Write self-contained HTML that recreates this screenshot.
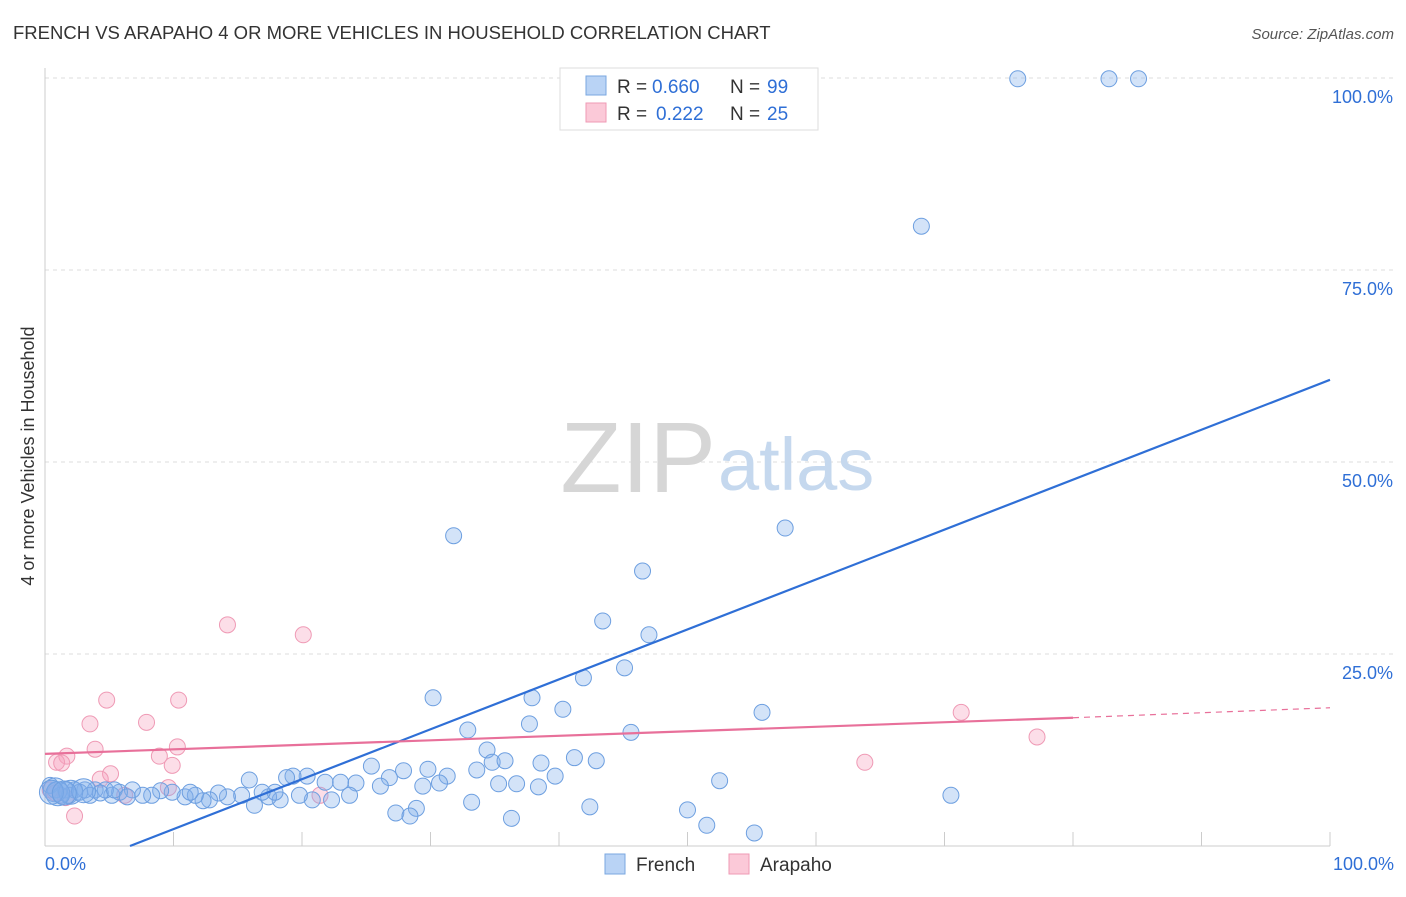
<!DOCTYPE html>
<html><head><meta charset="utf-8"><style>
body{margin:0;background:#fff;font-family:"Liberation Sans",sans-serif;}
svg text{font-family:"Liberation Sans",sans-serif;}
</style></head><body>
<svg id="chart" width="1406" height="892">
<text x="13" y="39" font-size="18.5" fill="#333">FRENCH VS ARAPAHO 4 OR MORE VEHICLES IN HOUSEHOLD CORRELATION CHART</text>
<text x="1394" y="39" font-size="15" fill="#555" font-style="italic" text-anchor="end">Source: ZipAtlas.com</text>
<text transform="translate(34,456) rotate(-90)" font-size="18" fill="#333" text-anchor="middle">4 or more Vehicles in Household</text>
<g id="grid"></g>
<text x="716" y="492" font-size="100" font-family="Liberation Serif" fill="#d6d6d6" text-anchor="end">ZIP</text>
<text x="718" y="490" font-size="74" fill="#c5d8ee">atlas</text>
<g id="marks"></g>
<g>
<rect x="560" y="68" width="258" height="62" fill="#fff" stroke="#ddd"/>
<rect x="586" y="76" width="20" height="19" fill="#b9d3f5" stroke="#7aa7e0"/>
<text x="617" y="93" font-size="19" fill="#333">R =</text>
<text x="652" y="93" font-size="19" fill="#2f6fd6">0.660</text>
<text x="730" y="93" font-size="19" fill="#333">N =</text>
<text x="767" y="93" font-size="19" fill="#2f6fd6">99</text>
<rect x="586" y="103" width="20" height="19" fill="#fbc9d8" stroke="#ef9ab5"/>
<text x="617" y="120" font-size="19" fill="#333">R =</text>
<text x="656" y="120" font-size="19" fill="#2f6fd6">0.222</text>
<text x="730" y="120" font-size="19" fill="#333">N =</text>
<text x="767" y="120" font-size="19" fill="#2f6fd6">25</text>
</g>
<g>
<rect x="605" y="854" width="20" height="20" fill="#b9d3f5" stroke="#7aa7e0"/>
<text x="636" y="871" font-size="19" fill="#333">French</text></g>
<g>
<rect x="729" y="854" width="20" height="20" fill="#fbc9d8" stroke="#ef9ab5"/>
<text x="760" y="871" font-size="19" fill="#333">Arapaho</text></g>
</svg>
<script>
const yTicks=[25,50,75,100];
const yTickLabels=["25.0%","50.0%","75.0%","100.0%"];
const xTickLabels=["0.0%","100.0%"];
const frenchX=[75.7,82.8,85.1,68.2,31.8,57.6,46.5,43.4,47.0,30.2,41.9,45.1,37.9,40.3,55.8,37.7,32.9,45.6,34.4,34.8,35.8,41.2,42.9,38.6,25.4,27.9,29.8,33.6,31.3,39.7,52.5,26.8,30.7,29.4,35.3,36.7,38.4,24.2,26.1,23.0,21.8,20.4,19.3,18.8,15.9,70.5,33.2,42.4,50.0,28.9,27.3,28.4,36.3,51.5,55.2,23.7,22.3,20.8,19.8,18.3,17.4,17.9,16.9,16.3,15.3,14.2,13.5,12.8,12.3,11.7,10.9,11.3,9.9,9.0,8.3,7.6,6.8,5.8,5.2,4.7,3.9,3.1,2.3,1.6,0.8,0.4,1.2,1.9,2.7,3.5,4.3,5.4,6.4,0.8,2.0,1.0,3.0,0.5,1.5];
const frenchY=[99.9,99.9,99.9,80.7,40.4,41.4,35.8,29.3,27.5,19.3,21.9,23.2,19.3,17.8,17.4,15.9,15.1,14.8,12.5,10.9,11.1,11.5,11.1,10.8,10.4,9.8,10.0,9.9,9.1,9.1,8.5,8.9,8.2,7.8,8.1,8.1,7.7,8.2,7.8,8.3,8.3,9.1,9.1,8.9,8.6,6.6,5.7,5.1,4.7,4.9,4.3,3.9,3.6,2.7,1.7,6.6,6.0,6.0,6.6,6.0,6.4,7.0,7.0,5.3,6.6,6.4,6.9,6.0,5.9,6.6,6.4,7.0,7.0,7.2,6.6,6.6,7.3,7.0,6.6,7.3,7.3,7.3,7.3,7.3,7.3,7.9,6.6,6.6,7.0,6.6,6.9,7.3,6.4,7.3,7.0,6.8,7.2,7.0,6.9];
const arapahoX=[14.2,20.1,4.8,10.4,7.9,3.5,3.9,10.3,8.9,1.7,0.9,1.3,9.9,5.1,4.3,9.6,6.2,21.4,2.3,0.4,71.3,77.2,63.8,0.8,1.6];
const arapahoY=[28.8,27.5,19.0,19.0,16.1,15.9,12.6,12.9,11.7,11.7,10.9,10.8,10.5,9.4,8.7,7.6,6.6,6.6,3.9,7.3,17.4,14.2,10.9,6.9,6.3];
const frenchTrend=[-4.3,60.7];
const arapahoTrend=[12.0,16.7,18.0];
const arapahoSolidEnd=80;
const X=v=>45+v*12.85, Y=v=>846-v*7.68;
const NS="http://www.w3.org/2000/svg";
function mk(p,tag,a){const e=document.createElementNS(NS,tag);for(const k in a)e.setAttribute(k,a[k]);p.appendChild(e);return e;}
const grid=document.getElementById('grid'),marks=document.getElementById('marks');
yTicks.forEach((t,i)=>{
 const l=mk(grid,'line',{x1:45,x2:1395,y1:Y(t),y2:Y(t),stroke:'#ddd','stroke-dasharray':'4,4'});
 
 
 const tx=mk(grid,'text',{x:1393,y:Y(t)+25,'font-size':18,fill:'#2f6fd6','text-anchor':'end'});
 tx.textContent=yTickLabels[i];
 
 
});
const ax=mk(grid,'line',{x1:45,x2:1330,y1:846,y2:846,stroke:'#ccc'});


const ay=mk(grid,'line',{x1:45,x2:45,y1:68,y2:846,stroke:'#ccc'});


for(let i=0;i<=10;i++){
 const t=mk(grid,'line',{x1:X(i*10),x2:X(i*10),y1:832,y2:846,stroke:'#ccc'});
 
 
}
[[0,'start',45],[100,'end',1394]].forEach((d,i)=>{
 const tx=mk(grid,'text',{x:d[2],y:870,'font-size':18,fill:'#2f6fd6','text-anchor':d[1]});
 tx.textContent=xTickLabels[i];
 
 
});
arapahoX.forEach((x,i)=>{
 const c=mk(marks,'circle',{cx:X(x),cy:Y(arapahoY[i]),r:8,fill:'rgba(245,160,190,0.35)',stroke:'#ef9ab5','stroke-width':1});
 
 
});
frenchX.forEach((x,i)=>{
 const big=i>=frenchX.length-6;
 const c=mk(marks,'circle',{cx:X(x),cy:Y(frenchY[i]),r:big?12:8,fill:'rgba(130,175,235,0.35)',stroke:'#6d9fe0','stroke-width':1});
 
 
});
const x0=-frenchTrend[0]*100/(frenchTrend[1]-frenchTrend[0]);
const fl=mk(marks,'line',{x1:X(x0),y1:Y(0),x2:X(100),y2:Y(frenchTrend[1]),stroke:'#2f6fd6','stroke-width':2.2});


const pl=mk(marks,'line',{x1:X(0),y1:Y(arapahoTrend[0]),x2:X(arapahoSolidEnd),y2:Y(arapahoTrend[1]),stroke:'#e8709a','stroke-width':2.2});


const pd=mk(marks,'line',{x1:X(arapahoSolidEnd),y1:Y(arapahoTrend[1]),x2:X(100),y2:Y(arapahoTrend[2]),stroke:'#e8709a','stroke-width':1.2,'stroke-dasharray':'6,5'});


</script>
</body></html>
